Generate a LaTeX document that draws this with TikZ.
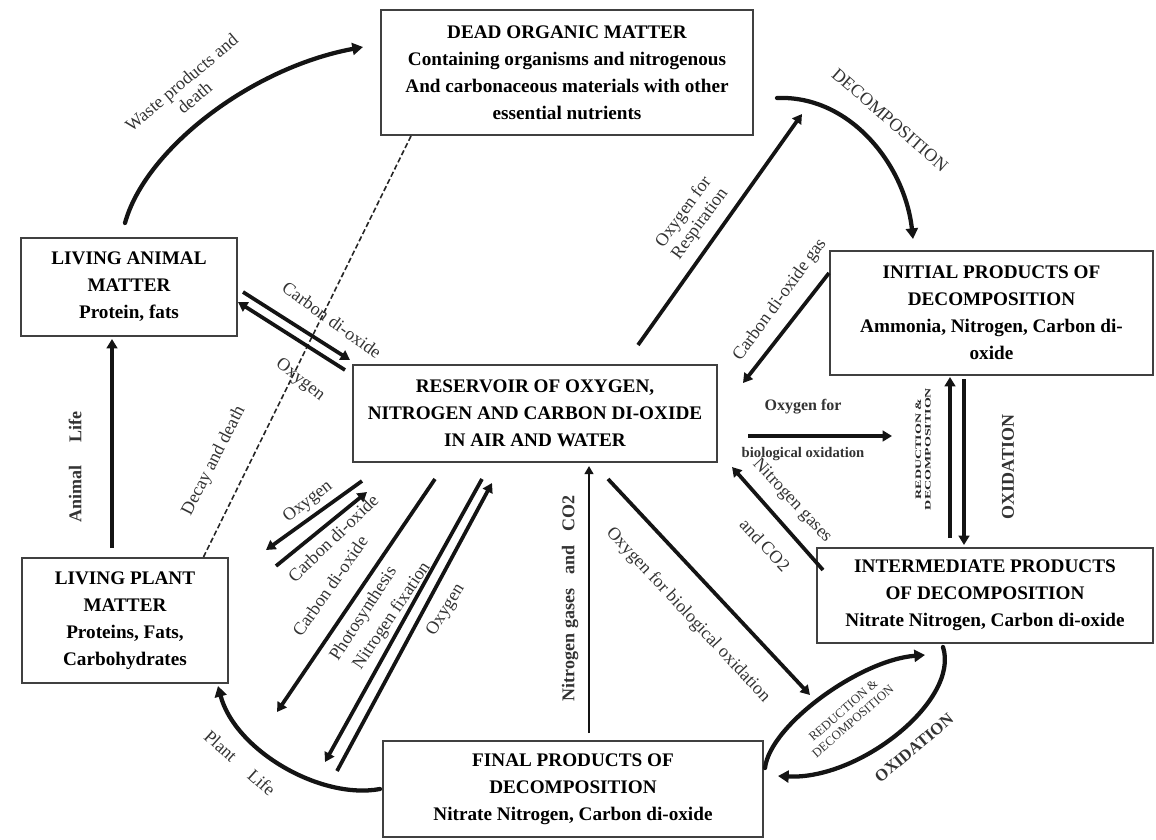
\documentclass[tikz,border=0pt]{standalone}
\usepackage{fontspec}
\usepackage{graphicx}
\setmainfont{Liberation Serif}
\usetikzlibrary{arrows.meta}
\begin{document}
\begin{tikzpicture}[x=0.75pt,y=-0.75pt,
  box/.style={draw=black!75,line width=1pt,inner sep=0pt,align=center,
    font=\fontsize{14.4}{20.25}\selectfont\bfseries},
  lab/.style={font=\fontsize{13.5}{15}\selectfont,text=black!80,inner sep=0pt,align=center},
  blab/.style={lab,font=\fontsize{13.5}{15}\selectfont\bfseries},
  flow/.style={draw=black!92,line width=2.8pt,-{Triangle[length=7pt,width=8pt]}},
  thinflow/.style={draw=black!92,line width=2pt,-{Triangle[length=6pt,width=6.5pt]}},
  cflow/.style={draw=black!92,line width=3.2pt,line cap=round,-{Triangle[length=8pt,width=9pt]}},
  dashline/.style={draw=black!85,line width=1.2pt,dash pattern=on 4pt off 2pt}
]
\useasboundingbox (0,0) rectangle (1156,839);

% boxes
\node[box,minimum width=279pt,minimum height=93.75pt] (dead) at (567,72.5)
  {DEAD ORGANIC MATTER\\Containing organisms and nitrogenous\\And carbonaceous materials with other\\essential nutrients};
\node[box,minimum width=162pt,minimum height=73.5pt] (animal) at (129,287)
  {LIVING ANIMAL\\MATTER\\Protein, fats};
\node[box,minimum width=154.5pt,minimum height=93.75pt] (plant) at (125,620.5)
  {LIVING PLANT\\MATTER\\Proteins, Fats,\\Carbohydrates};
\node[box,minimum width=273pt,minimum height=72.75pt] (res) at (535,413.5)
  {RESERVOIR OF OXYGEN,\\NITROGEN AND CARBON DI-OXIDE\\IN AIR AND WATER};
\node[box,minimum width=242.25pt,minimum height=93pt] (init) at (991.5,313)
  {INITIAL PRODUCTS OF\\DECOMPOSITION\\Ammonia, Nitrogen, Carbon di-\\oxide};
\node[box,minimum width=252pt,minimum height=71.25pt] (inter) at (985,595.5)
  {INTERMEDIATE PRODUCTS\\OF DECOMPOSITION\\Nitrate Nitrogen, Carbon di-oxide};
\node[box,minimum width=285pt,minimum height=72pt] (final) at (573,789)
  {FINAL PRODUCTS OF\\DECOMPOSITION\\Nitrate Nitrogen, Carbon di-oxide};

% connector end points
\coordinate (wa1) at (125,223); \coordinate (wa2) at (363,47);
\coordinate (dd1) at (411,136); \coordinate (dd2) at (203,558);
\coordinate (ar1) at (243,292); \coordinate (ar2) at (350,360);
\coordinate (ra1) at (345,370); \coordinate (ra2) at (238,302);
\coordinate (al1) at (112,548); \coordinate (al2) at (112,339);
\coordinate (pl1) at (380,789); \coordinate (pl2) at (218,686);
\coordinate (de1) at (777,98);  \coordinate (de2) at (913,239);
\coordinate (re1) at (638,345); \coordinate (re2) at (802,114);
\coordinate (cg1) at (829,273); \coordinate (cg2) at (743,383);
\coordinate (bo1) at (748,436); \coordinate (bo2) at (892,436);
\coordinate (ng1) at (823,570); \coordinate (ng2) at (732,467);
\coordinate (vu1) at (950,538); \coordinate (vu2) at (950,377);
\coordinate (vd1) at (964,379); \coordinate (vd2) at (964,545);
\coordinate (po1) at (362,481); \coordinate (po2) at (266,550);
\coordinate (pc1) at (276,566); \coordinate (pc2) at (367,492);
\coordinate (lc1) at (435,479); \coordinate (lc2) at (277,712);
\coordinate (ph1) at (482,479); \coordinate (ph2) at (325,762);
\coordinate (ox1) at (337,771); \coordinate (ox2) at (492,483);
\coordinate (nv1) at (589,733); \coordinate (nv2) at (589,466);
\coordinate (ob1) at (608,479); \coordinate (ob2) at (810,695);
\coordinate (e1) at (765,768);  \coordinate (e2) at (925,655);
\coordinate (e3) at (943,647);  \coordinate (e4) at (778,776);

% connectors
\draw[cflow] (wa1) .. controls (145,150) and (250,68) .. (wa2);
\draw[dashline] (dd1) -- (dd2);
\draw[flow] (ar1) -- (ar2);
\draw[flow] (ra1) -- (ra2);
\draw[flow,line width=3.2pt] (al1) -- (al2);
\draw[cflow] (pl1) .. controls (320,800) and (235,750) .. (pl2);
\draw[cflow] (de1) .. controls (850,95) and (905,165) .. (de2);
\draw[flow] (re1) -- (re2);
\draw[flow] (cg1) -- (cg2);
\draw[flow,line width=3.4pt] (bo1) -- (bo2);
\draw[flow] (ng1) -- (ng2);
\draw[flow] (vu1) -- (vu2);
\draw[flow] (vd1) -- (vd2);
\draw[flow] (po1) -- (po2);
\draw[flow] (pc1) -- (pc2);
\draw[flow] (lc1) -- (lc2);
\draw[flow] (ph1) -- (ph2);
\draw[flow] (ox1) -- (ox2);
\draw[thinflow] (nv1) -- (nv2);
\draw[flow] (ob1) -- (ob2);
\draw[cflow] (e1) .. controls (770,725) and (860,660) .. (e2);
\draw[cflow] (e3) .. controls (960,700) and (860,780) .. (e4);

% labels
\node[lab,rotate=40] (lwaste) at (188,90) {Waste products and\\death};
\node[lab,rotate=63] (ldecay) at (214,461) {Decay and death};
\node[lab,rotate=-36] (lacd) at (332,320) {Carbon di-oxide};
\node[lab,rotate=-38] (laox) at (300,380) {Oxygen};
\node[blab,rotate=90] (lanim) at (75,467) {Animal\hspace{1.3em}Life};
\node[lab,rotate=-42] (lplant) at (240,763) {Plant\hspace{1.2em}Life};
\node[lab,rotate=-41] (ldecomp) at (890,120) {DECOMPOSITION};
\node[lab,rotate=54] (lresp) at (692,218) {Oxygen for\\Respiration};
\node[lab,rotate=54] (lcgas) at (780,300) {Carbon di-oxide gas};
\node[blab,font=\fontsize{12}{14}\selectfont\bfseries] (lbo1) at (803,407) {Oxygen for};
\node[blab,font=\fontsize{11}{13}\selectfont\bfseries] (lbo2) at (803,454) {biological oxidation};
\node[lab,rotate=-47] (lng1) at (792,501) {Nitrogen gases};
\node[lab,rotate=-47] (lng2) at (765,545) {and CO2};
\node[inner sep=0pt,rotate=90,text=black!85] (lred) at (924,449)
  {\scalebox{1}[0.6]{\fontsize{10.5}{12}\selectfont\bfseries\begin{tabular}{@{}c@{}}REDUCTION \&\\DECOMPOSITION\end{tabular}}};
\node[blab,rotate=90] (loxv) at (1008,467) {OXIDATION};
\node[lab,rotate=38] (lpox) at (308,502) {Oxygen};
\node[lab,rotate=44] (lpcd) at (333,538) {Carbon di-oxide};
\node[lab,rotate=55] (llcd) at (330,586) {Carbon di-oxide};
\node[lab,rotate=57] (lphot) at (364,614) {Photosynthesis};
\node[lab,rotate=56] (lnfix) at (392,616) {Nitrogen fixation};
\node[lab,rotate=58] (loxl) at (446,610) {Oxygen};
\node[blab,rotate=90] (lngv) at (570,598) {Nitrogen gases\hspace{0.8em}and\hspace{0.8em}CO2};
\node[lab,rotate=-47] (lobd) at (688,615) {Oxygen for biological oxidation};
\node[lab,rotate=41,font=\fontsize{9.5}{11}\selectfont] (lred2) at (848,716) {REDUCTION \&\\DECOMPOSITION};
\node[blab,rotate=40,font=\fontsize{12.5}{14}\selectfont\bfseries] (loxe) at (914,748) {OXIDATION};
\end{tikzpicture}
\end{document}
